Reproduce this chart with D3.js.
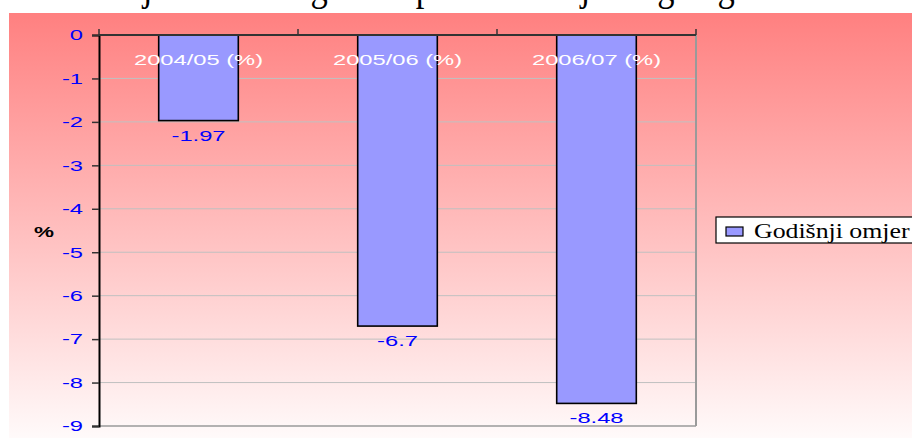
<!DOCTYPE html>
<html>
<head>
<meta charset="utf-8">
<script src="https://cdn.jsdelivr.net/npm/d3@7"></script>
<style>
  html, body { margin: 0; padding: 0; background: #ffffff; }
  svg { display: block; }
</style>
</head>
<body>
<div id="chart"></div>
<script>
// data
var categories = ['2004/05 (%)', '2005/06 (%)', '2006/07 (%)'];
var values = [-1.97, -6.7, -8.48];
var valueLabels = ['-1.97', '-6.7', '-8.48'];
var yTicks = [0, -1, -2, -3, -4, -5, -6, -7, -8, -9];
var seriesName = 'Godišnji omjer';
var axisTitle = '%';
var titleText = 'Kretanje ostvarenog salda proračuna i javnog duga';

var width = 912, height = 439;
var sans = '"Liberation Sans", Arial, sans-serif';
var serif = '"Liberation Serif", "Times New Roman", serif';
// the picture is stretched sideways, so text is too
var sansStretch = 1.58;
var serifStretch = 1.23;

var colours = {
    bar: '#9999FF',
    tick: '#0000FF',
    grid: '#C0C0C0',
    border: '#9A9A9A',
    axis: '#333333'
};

var plot = { left: 99, right: 696, top: 35, bottom: 426 };

var svg = d3.select('#chart')
    .append('svg')
    .attr('width', width)
    .attr('height', height);

// background gradient
var grad = svg.append('defs').append('linearGradient')
    .attr('id', 'bg')
    .attr('x1', 0).attr('y1', 0).attr('x2', 0).attr('y2', 1);
grad.append('stop').attr('offset', '0%').attr('stop-color', '#FF8080');
grad.append('stop').attr('offset', '100%').attr('stop-color', '#FFFAFA');

svg.append('rect')
    .attr('x', 9).attr('y', 13)
    .attr('width', width - 9).attr('height', 425)
    .attr('fill', 'url(#bg)');

// title, only its descenders show above the frame
svg.append('text')
    .attr('transform', 'translate(49,0) scale(0.8625,1)')
    .attr('font-family', serif)
    .attr('font-size', 40)
    .attr('fill', '#000')
    .text(titleText);

// scales
var x = d3.scaleBand()
    .domain(categories)
    .range([plot.left, plot.right])
    .padding(0);

var y = d3.scaleLinear()
    .domain([0, -9])
    .range([plot.top, plot.bottom]);

var barWidth = x.bandwidth() * 0.4;

// gridlines
svg.append('g')
    .selectAll('line')
    .data(yTicks.slice(1, -1))
    .enter().append('line')
    .attr('x1', plot.left).attr('x2', plot.right)
    .attr('y1', function(d) { return y(d); })
    .attr('y2', function(d) { return y(d); })
    .attr('stroke', colours.grid)
    .attr('stroke-width', 1);

// plot border right and bottom
svg.append('line')
    .attr('x1', plot.right).attr('x2', plot.right)
    .attr('y1', y(0)).attr('y2', y(-9))
    .attr('stroke', colours.border).attr('stroke-width', 2);
svg.append('line')
    .attr('x1', plot.left).attr('x2', plot.right)
    .attr('y1', y(-9)).attr('y2', y(-9))
    .attr('stroke', colours.border).attr('stroke-width', 1.5);

// bars
svg.append('g')
    .selectAll('rect')
    .data(values)
    .enter().append('rect')
    .attr('x', function(d, i) { return x(categories[i]) + (x.bandwidth() - barWidth) / 2; })
    .attr('y', y(0))
    .attr('width', barWidth)
    .attr('height', function(d) { return y(d) - y(0); })
    .attr('fill', colours.bar)
    .attr('stroke', '#000')
    .attr('stroke-width', 1.6);

// y axis
var yAxis = svg.append('g')
    .attr('transform', 'translate(' + plot.left + ',0)')
    .call(d3.axisLeft(y).tickValues(yTicks).tickSize(7).tickFormat(d3.format('d')));
yAxis.select('.domain').attr('stroke', '#000').attr('stroke-width', 2);
yAxis.selectAll('.tick line').attr('stroke', colours.axis).attr('stroke-width', 1.5);
yAxis.selectAll('.tick text')
    .attr('x', -16 / sansStretch)
    .attr('transform', 'scale(' + sansStretch + ',1)')
    .attr('font-family', sans)
    .attr('font-size', 15)
    .attr('fill', colours.tick)
    .text(function(d) { return d === 0 ? '0' : String(d); });

// category axis along zero
svg.append('line')
    .attr('x1', plot.left).attr('x2', plot.right)
    .attr('y1', y(0)).attr('y2', y(0))
    .attr('stroke', colours.axis).attr('stroke-width', 2);
var bounds = categories.map(function(c) { return x(c); }).concat([x.range()[1]]);
svg.append('g')
    .selectAll('line')
    .data(bounds)
    .enter().append('line')
    .attr('x1', function(d) { return d; }).attr('x2', function(d) { return d; })
    .attr('y1', y(0) - 6).attr('y2', y(0))
    .attr('stroke', colours.axis).attr('stroke-width', 1.5);

svg.append('g')
    .selectAll('text')
    .data(categories)
    .enter().append('text')
    .attr('transform', function(d) {
        return 'translate(' + (x(d) + x.bandwidth() / 2) + ',' + (y(0) + 30) + ') scale(' + sansStretch + ',1)';
    })
    .attr('text-anchor', 'middle')
    .attr('font-family', sans)
    .attr('font-size', 15)
    .attr('fill', '#FFFFFF')
    .text(function(d) { return d; });

// value labels
svg.append('g')
    .selectAll('text')
    .data(values)
    .enter().append('text')
    .attr('transform', function(d, i) {
        return 'translate(' + (x(categories[i]) + x.bandwidth() / 2) + ',' + (y(d) + 20) + ') scale(' + sansStretch + ',1)';
    })
    .attr('text-anchor', 'middle')
    .attr('font-family', sans)
    .attr('font-size', 15)
    .attr('fill', colours.tick)
    .text(function(d, i) { return valueLabels[i]; });

// axis title
svg.append('text')
    .attr('transform', 'translate(44,' + ((y(0) + y(-9)) / 2 + 6) + ') scale(1.5,1)')
    .attr('text-anchor', 'middle')
    .attr('font-family', sans)
    .attr('font-size', 15)
    .attr('font-weight', 'bold')
    .attr('fill', '#000')
    .text(axisTitle);

// legend
var legend = svg.append('g').attr('transform', 'translate(716,217)');
legend.append('rect')
    .attr('x', 0).attr('y', 0)
    .attr('width', 220).attr('height', 26)
    .attr('fill', '#FFFFFF')
    .attr('stroke', '#000').attr('stroke-width', 1.2);
legend.append('rect')
    .attr('x', 10).attr('y', 10)
    .attr('width', 17).attr('height', 9)
    .attr('fill', colours.bar)
    .attr('stroke', '#000').attr('stroke-width', 1.2);
legend.append('text')
    .attr('transform', 'translate(38,21) scale(' + serifStretch + ',1)')
    .attr('font-family', serif)
    .attr('font-size', 21)
    .attr('fill', '#000')
    .text(seriesName);
</script>
</body>
</html>
